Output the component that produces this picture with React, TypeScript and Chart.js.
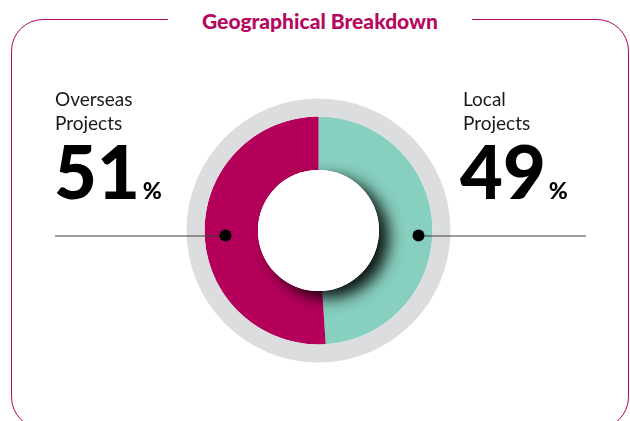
import React, { useEffect, useRef } from "react";
import { Chart, registerables } from "chart.js";

Chart.register(...registerables);

const categories = ["Local Projects", "Overseas Projects"];
const shares = [49, 51];
const sliceColors = ["#87cfbf", "#b4005a"];
const ringValue = [100];
const titleText = "Geographical Breakdown";
const leftLines = ["Overseas", "Projects"];
const rightLines = ["Local", "Projects"];
const leftValue = "51";
const rightValue = "49";

const MAGENTA = "#b5085e";

const decorPlugin = {
  id: "decor",
  afterDatasetsDraw(chart: any) {
    const meta = chart.getDatasetMeta(1);
    if (!meta || !meta.data.length) return;
    const arc: any = meta.data[0];
    const cx = arc.x;
    const cy = arc.y;
    const inner = arc.innerRadius;
    const outer = arc.outerRadius;
    const ctx = chart.ctx;
    // shadow of the inner white disc, clipped to the coloured ring
    ctx.save();
    ctx.beginPath();
    ctx.arc(cx, cy, outer, 0, Math.PI * 2);
    ctx.clip();
    ctx.shadowColor = "rgba(0,0,0,0.9)";
    ctx.shadowBlur = 15;
    ctx.shadowOffsetX = 10;
    ctx.shadowOffsetY = 7;
    ctx.fillStyle = "#ffffff";
    ctx.beginPath();
    ctx.arc(cx, cy, inner, 0, Math.PI * 2);
    ctx.fill();
    ctx.restore();
    ctx.save();
    ctx.fillStyle = "#ffffff";
    ctx.beginPath();
    ctx.arc(cx, cy, inner, 0, Math.PI * 2);
    ctx.fill();
    // leader lines and dots
    const ly = cy + 5;
    const lx = cx - 93;
    const rx = cx + 100;
    ctx.strokeStyle = "#3a3a3a";
    ctx.lineWidth = 1;
    ctx.beginPath();
    ctx.moveTo(55, ly + 0.5);
    ctx.lineTo(lx, ly + 0.5);
    ctx.moveTo(rx, ly + 0.5);
    ctx.lineTo(586, ly + 0.5);
    ctx.stroke();
    ctx.fillStyle = "#000000";
    ctx.beginPath();
    ctx.arc(lx, ly, 6, 0, Math.PI * 2);
    ctx.fill();
    ctx.beginPath();
    ctx.arc(rx, ly, 6, 0, Math.PI * 2);
    ctx.fill();
    ctx.restore();
  },
};

export default function App() {
  const ref = useRef<HTMLCanvasElement | null>(null);
  useEffect(() => {
    if (!ref.current) return;
    const chart = new Chart(ref.current, {
      type: "doughnut",
      data: {
        labels: categories,
        datasets: [
          {
            data: ringValue,
            backgroundColor: ["#dcddde"],
            borderWidth: 0,
            weight: 18,
          },
          {
            data: shares,
            backgroundColor: sliceColors,
            borderWidth: 0,
            weight: 53.5,
          },
        ],
      },
      options: {
        responsive: false,
        animation: false,
        devicePixelRatio: 1,
        cutout: 60.5,
        layout: { padding: { left: 186.5, right: 179.5, top: 98.5, bottom: 58.5 } },
        plugins: { legend: { display: false }, tooltip: { enabled: false } },
        events: [],
      },
      plugins: [decorPlugin],
    } as any);
    return () => chart.destroy();
  }, []);

  const labelStyle: React.CSSProperties = {
    position: "absolute",
    fontFamily: "Lato, 'Noto Sans', sans-serif",
    fontWeight: 400,
    fontSize: 19,
    lineHeight: "24px",
    color: "#1a1a1a",
  };
  const bigStyle: React.CSSProperties = {
    position: "absolute",
    fontFamily: "Lato, 'Noto Sans', sans-serif",
    fontWeight: 900,
    fontSize: 74,
    lineHeight: "74px",
    color: "#000",
    whiteSpace: "nowrap",
  };
  const pctStyle: React.CSSProperties = { fontSize: 23, fontWeight: 900, marginLeft: 3 };

  return (
    <div
      style={{
        position: "absolute",
        left: 0,
        top: 0,
        width: 630,
        height: 421,
        background: "#fff",
        overflow: "hidden",
      }}
    >
      <div
        style={{
          position: "absolute",
          left: 11,
          top: 19,
          width: 616,
          height: 408,
          border: `1.5px solid ${MAGENTA}`,
          borderRadius: 32,
        }}
      />
      <canvas ref={ref} width={630} height={421} style={{ position: "absolute", left: 0, top: 0 }} />
      <div
        style={{
          position: "absolute",
          left: 168,
          top: 8,
          width: 304,
          height: 26,
          background: "#fff",
          textAlign: "center",
          fontFamily: "Lato, 'Noto Sans', sans-serif",
          fontWeight: 900,
          fontSize: 21,
          lineHeight: "26px",
          color: MAGENTA,
        }}
      >
        {titleText}
      </div>
      <div style={{ ...labelStyle, left: 55, top: 87 }}>
        {leftLines.map((t) => (
          <div key={t}>{t}</div>
        ))}
      </div>
      <div style={{ ...labelStyle, left: 463, top: 87 }}>
        {rightLines.map((t) => (
          <div key={t}>{t}</div>
        ))}
      </div>
      <div style={{ ...bigStyle, left: 54, top: 134 }}>
        {leftValue}
        <span style={pctStyle}>%</span>
      </div>
      <div style={{ ...bigStyle, left: 460, top: 134 }}>
        {rightValue}
        <span style={pctStyle}>%</span>
      </div>
    </div>
  );
}
